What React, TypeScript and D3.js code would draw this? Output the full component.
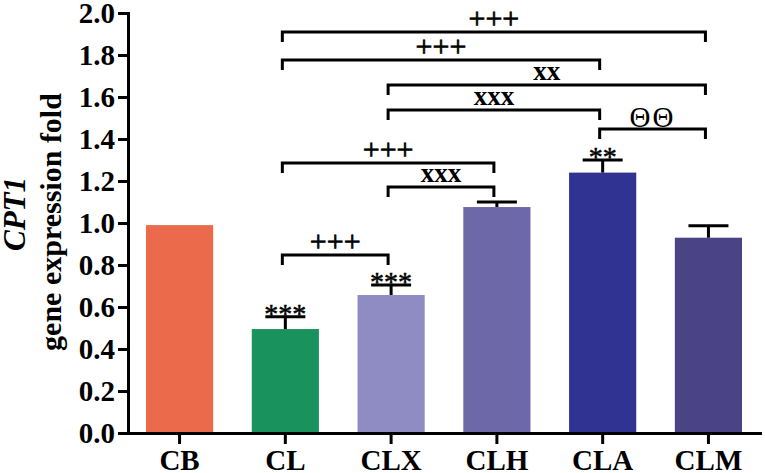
import React, { useEffect, useRef } from "react";
import * as d3 from "d3";

const categories = ["CB", "CL", "CLX", "CLH", "CLA", "CLM"];
const values = [0.99, 0.495, 0.657, 1.076, 1.24, 0.93];
const errors = [0, 0.058, 0.048, 0.024, 0.06, 0.057];
const starLabels = ["", "***", "***", "", "**", ""];
const barColors = ["#EC6A4C", "#1A925E", "#8F8BC3", "#6D69A9", "#303391", "#4A4486"];
const yTicks = [0, 0.2, 0.4, 0.6, 0.8, 1.0, 1.2, 1.4, 1.6, 1.8, 2.0];

const bracketFrom = ["CL", "CL", "CLX", "CLX", "CLA", "CL", "CLX", "CL"];
const bracketTo = ["CLM", "CLA", "CLM", "CLA", "CLM", "CLH", "CLH", "CLX"];
const bracketLevel = [1.91, 1.776, 1.657, 1.538, 1.448, 1.286, 1.171, 0.848];
const bracketText = ["+++", "+++", "xx", "xxx", "ΘΘ", "+++", "xxx", "+++"];

const W = 765;
const H = 473;
const FONT = "'Liberation Serif', 'Times New Roman', serif";

export default function App() {
  const ref = useRef<SVGSVGElement>(null);

  useEffect(() => {
    const svg = d3.select(ref.current);
    svg.selectAll("*").remove();

    const x = d3
      .scaleBand<string>()
      .domain(categories)
      .range([128, 760])
      .paddingInner(0.365)
      .paddingOuter(0.17);
    const y = d3.scaleLinear().domain([0, 2]).range([433, 13]);
    const cx = (c: string) => (x(c) as number) + x.bandwidth() / 2;

    // bars
    svg
      .append("g")
      .selectAll("rect")
      .data(categories)
      .join("rect")
      .attr("x", (d) => x(d) as number)
      .attr("width", x.bandwidth())
      .attr("y", (_d, i) => y(values[i]))
      .attr("height", (_d, i) => y(0) - y(values[i]))
      .attr("fill", (_d, i) => barColors[i]);

    // error bars
    const eg = svg.append("g").attr("stroke", "#000").attr("stroke-width", 3);
    categories.forEach((c, i) => {
      if (!errors[i]) return;
      const top = y(values[i] + errors[i]);
      eg.append("line")
        .attr("x1", cx(c))
        .attr("x2", cx(c))
        .attr("y1", y(values[i]))
        .attr("y2", top);
      eg.append("line")
        .attr("x1", cx(c) - 20)
        .attr("x2", cx(c) + 20)
        .attr("y1", top)
        .attr("y2", top);
      if (starLabels[i]) {
        svg
          .append("text")
          .attr("x", cx(c))
          .attr("y", top + 6)
          .attr("text-anchor", "middle")
          .attr("font-family", FONT)
          .attr("font-size", 28)
          .attr("fill", "#000")
          .attr("stroke", "#000")
          .attr("stroke-width", 0.5)
          .text(starLabels[i]);
      }
    });

    // brackets
    const bg = svg.append("g");
    bracketFrom.forEach((f, i) => {
      const x1 = cx(f) - 3;
      const x2 = cx(bracketTo[i]) - 3;
      const yy = y(bracketLevel[i]);
      bg.append("path")
        .attr("d", `M${x1},${yy + 10}V${yy}H${x2}V${yy + 10}`)
        .attr("fill", "none")
        .attr("stroke", "#000")
        .attr("stroke-width", 3);
      const t = bracketText[i];
      const isX = t.startsWith("x");
      const isTheta = t.startsWith("Θ");
      const isPlus = t.startsWith("+");
      bg.append("text")
        .attr("x", (x1 + x2) / 2)
        .attr("y", yy - (isTheta ? 2 : isX ? 5 : 4))
        .attr("text-anchor", "middle")
        .attr("font-family", FONT)
        .attr("font-size", isTheta ? 29 : isX ? 27 : 30)
        .attr("font-weight", isX ? "bold" : "normal")
        .attr("letter-spacing", isTheta ? 2 : 0)
        .attr("fill", "#000")
        .attr("stroke", isPlus ? "#000" : "none")
        .attr("stroke-width", isPlus ? 0.7 : 0)
        .text(t);
    });

    // y axis
    const ya = svg
      .append("g")
      .attr("transform", "translate(128,0)")
      .call(
        d3
          .axisLeft(y)
          .tickValues(yTicks)
          .tickFormat(d3.format(".1f"))
          .tickSize(10)
          .tickSizeOuter(0)
          .tickPadding(3)
      );
    ya.select(".domain").attr("stroke-width", 3).attr("stroke-linecap", "square");
    ya.selectAll(".tick line").attr("stroke-width", 3);
    ya.selectAll(".tick text")
      .attr("font-family", FONT)
      .attr("font-size", 29)
      .attr("font-weight", "bold")
      .attr("fill", "#000");

    // x axis
    const xa = svg
      .append("g")
      .attr("transform", "translate(0,433)")
      .call(d3.axisBottom(x).tickSize(11).tickSizeOuter(0).tickPadding(5));
    xa.select(".domain").attr("stroke-width", 3).attr("stroke-linecap", "square");
    xa.selectAll(".tick line").attr("stroke-width", 3);
    xa.selectAll(".tick text")
      .attr("font-family", FONT)
      .attr("font-size", 29)
      .attr("font-weight", "bold")
      .attr("fill", "#000");

    // y title
    svg
      .append("text")
      .attr("transform", "translate(25,214) rotate(-90)")
      .attr("text-anchor", "middle")
      .attr("font-family", FONT)
      .attr("font-size", 31)
      .attr("font-weight", "bold")
      .attr("font-style", "italic")
      .text("CPT1");
    svg
      .append("text")
      .attr("transform", "translate(61,222) rotate(-90)")
      .attr("text-anchor", "middle")
      .attr("font-family", FONT)
      .attr("font-size", 30)
      .attr("font-weight", "bold")
      .text("gene expression fold");
  }, []);

  return (
    <svg
      ref={ref}
      width={W}
      height={H}
      style={{ position: "absolute", left: 0, top: 0, background: "#fff" }}
    />
  );
}
